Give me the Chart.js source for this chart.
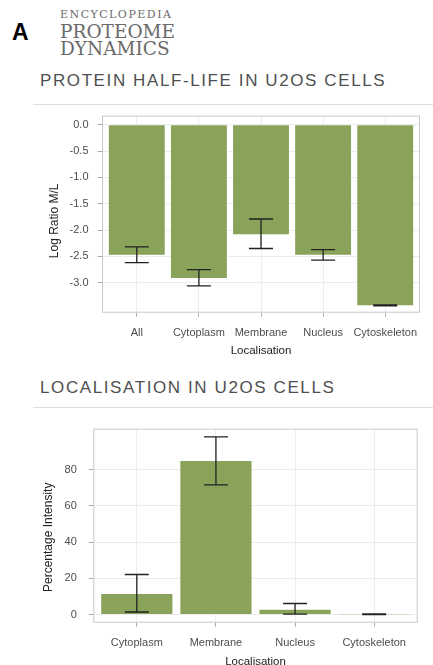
<!DOCTYPE html>
<html>
<head>
<meta charset="utf-8">
<script src="https://cdn.jsdelivr.net/npm/chart.js@4.4.0/dist/chart.umd.min.js"></script>
<style>
  html, body { margin: 0; padding: 0; background: #fff; }
  body { width: 433px; height: 665px; overflow: hidden; position: relative; font-family: "Liberation Sans", Arial, sans-serif; }
  .panelA { position: absolute; left: 12px; top: 19px; font: bold 23px "Liberation Sans", Arial, sans-serif; color: #000; }
  .logo { position: absolute; left: 60px; font-family: "DejaVu Serif", serif; color: #6a6a6a; white-space: nowrap; }
  .sect { position: absolute; left: 40px; font-size: 17px; letter-spacing: 1.6px; color: #4f4f4f; line-height: 17px; white-space: nowrap; }
  .rule { position: absolute; left: 33px; right: 0; height: 1px; background: #dedede; }
  .box { position: absolute; left: 0; }
</style>
</head>
<body>
<div class="panelA">A</div>
<div class="logo" style="top:8px;font-size:11px;letter-spacing:1.5px;">ENCYCLOPEDIA</div>
<div class="logo" style="top:21px;font-size:18.5px;">PROTEOME</div>
<div class="logo" style="top:38px;font-size:18.5px;">DYNAMICS</div>

<div class="sect" style="top:72px;">PROTEIN HALF-LIFE IN U2OS CELLS</div>
<div class="rule" style="top:104px;"></div>
<div class="box" style="top:100px;"><canvas id="halfLife" width="433" height="265"></canvas></div>

<div class="sect" style="top:379px;">LOCALISATION IN U2OS CELLS</div>
<div class="rule" style="top:407px;"></div>
<div class="box" style="top:410px;"><canvas id="localisation" width="433" height="265"></canvas></div>

<script>
// protein half-life (log ratio M/L)
var halfLifeCats = ["All", "Cytoplasm", "Membrane", "Nucleus", "Cytoskeleton"];
var halfLifeVals = [-2.47, -2.91, -2.08, -2.47, -3.43];
var halfLifeLow = [-2.62, -3.06, -2.35, -2.57, -3.44];
var halfLifeHigh = [-2.32, -2.75, -1.79, -2.37, -3.42];
var halfLifeTicks = [0, -0.5, -1, -1.5, -2, -2.5, -3];

// localisation (percentage intensity)
var locCats = ["Cytoplasm", "Membrane", "Nucleus", "Cytoskeleton"];
var locVals = [11.3, 84.7, 2.7, 0.2];
var locLow = [1.4, 71.5, 0.2, 0.0];
var locHigh = [22.1, 98.0, 6.1, 0.4];
var locTicks = [0, 20, 40, 60, 80];

var barGreen = "#8aa35b";
var tickCol = "#4d4d4d";
var titleCol = "#222";
var gridCol = "#ececec";

// error bars + panel frame, drawn through the chart's own scales
var errorBars = {
    id: "errorBars",
    afterDatasetsDraw: function (chart) {
        var ctx = chart.ctx;
        var xs = chart.scales.x, ys = chart.scales.y;
        var lo = chart.options.plugins.errorBars.low;
        var hi = chart.options.plugins.errorBars.high;
        ctx.save();
        ctx.strokeStyle = "#222";
        ctx.lineWidth = 1.3;
        for (var i = 0; i < lo.length; i++) {
            var x = xs.getPixelForValue(i);
            var y1 = ys.getPixelForValue(lo[i]);
            var y2 = ys.getPixelForValue(hi[i]);
            ctx.beginPath();
            ctx.moveTo(x, y1); ctx.lineTo(x, y2);
            ctx.moveTo(x - 12, y1); ctx.lineTo(x + 12, y1);
            ctx.moveTo(x - 12, y2); ctx.lineTo(x + 12, y2);
            ctx.stroke();
        }
        var a = chart.chartArea;
        ctx.strokeStyle = "#c8c8c8";
        ctx.lineWidth = 1;
        ctx.strokeRect(a.left + 0.5, a.top + 0.5, a.right - a.left - 1, a.bottom - a.top - 1);
        ctx.restore();
    }
};

function makeChart(id, cats, vals, low, high, ticks, opts) {
    var pts = [];
    for (var i = 0; i < cats.length; i++) {
        pts.push({ x: i, y: vals[i] });
    }
    return new Chart(document.getElementById(id), {
        type: "bar",
        data: {
            datasets: [{
                data: pts,
                backgroundColor: barGreen,
                borderWidth: 0,
                barPercentage: 0.9,
                categoryPercentage: 1
            }]
        },
        plugins: [errorBars],
        options: {
            responsive: false,
            animation: false,
            events: [],
            layout: { padding: { left: 0, right: opts.right, top: 14, bottom: 0 } },
            plugins: {
                legend: { display: false },
                tooltip: { enabled: false },
                errorBars: { low: low, high: high }
            },
            scales: {
                x: {
                    type: "linear",
                    offset: false,
                    min: -opts.pad,
                    max: cats.length - 1 + opts.pad,
                    afterBuildTicks: function (s) {
                        s.ticks = cats.map(function (c, i) { return { value: i }; });
                    },
                    afterFit: function (s) { s.height = 52.3; },
                    grid: { offset: false, color: gridCol, tickColor: "#aaa", tickLength: 4, lineWidth: 1 },
                    border: { display: false },
                    ticks: {
                        autoSkip: false,
                        maxRotation: 0,
                        padding: 10,
                        color: tickCol,
                        font: { family: "Liberation Sans", size: 11 },
                        callback: function (v) { return cats[v]; }
                    },
                    title: {
                        display: true,
                        text: "Localisation",
                        color: titleCol,
                        font: { family: "Liberation Sans", size: 11.5 },
                        padding: { top: 0, bottom: opts.xTitlePad }
                    }
                },
                y: {
                    min: opts.yMin,
                    max: opts.yMax,
                    afterBuildTicks: function (s) {
                        s.ticks = ticks.map(function (t) { return { value: t }; });
                    },
                    afterFit: function (s) { s.width = opts.left; },
                    grid: { color: gridCol, tickColor: "#aaa", tickLength: 4.5, lineWidth: 1 },
                    border: { display: false },
                    ticks: {
                        padding: opts.yTickPad,
                        color: tickCol,
                        font: { family: "Liberation Sans", size: 11 },
                        callback: opts.fmt
                    },
                    title: {
                        display: true,
                        text: opts.yTitle,
                        color: titleCol,
                        font: { family: "Liberation Sans", size: 12 },
                        padding: { top: opts.yTitlePad, bottom: 0 }
                    }
                }
            }
        }
    });
}

// trailing spaces nudge the rotated y titles slightly down, as in the source
makeChart("halfLife", halfLifeCats, halfLifeVals, halfLifeLow, halfLifeHigh, halfLifeTicks, {
    right: 13, left: 102, pad: 0.56, yMin: -3.57, yMax: 0.175,
    yTitle: "Log Ratio M/L    ", yTitlePad: 47, yTickPad: 9, xTitlePad: 7,
    fmt: function (v) { return v.toFixed(1); }
});

makeChart("localisation", locCats, locVals, locLow, locHigh, locTicks, {
    right: 15.3, left: 93.3, pad: 0.55, yMin: -4.5, yMax: 102.6,
    yTitle: "Percentage Intensity       ", yTitlePad: 41, yTickPad: 12, xTitlePad: 6.5,
    fmt: function (v) { return v; }
});
</script>
</body>
</html>
